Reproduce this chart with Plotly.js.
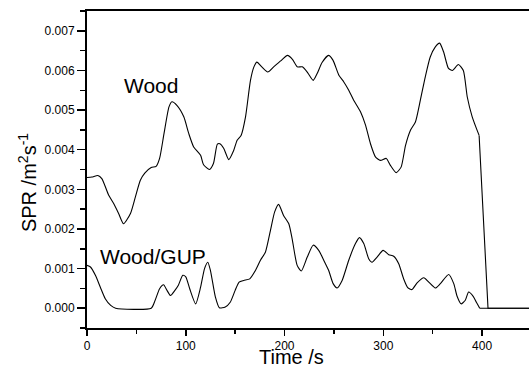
<!DOCTYPE html>
<html>
<head>
<meta charset="utf-8">
<script src="https://cdn.plot.ly/plotly-3.0.1.min.js"></script>
<style>
html,body{margin:0;padding:0;background:#fff;overflow:hidden;}
#chart{width:529px;height:369px;}
</style>
</head>
<body>
<div id="chart"></div>
<script>
// Wood series
const woodTime = [0, 5, 11, 15, 22, 27, 32, 37, 44, 49, 54, 58.5, 65, 70, 73.5, 78, 83, 86, 91, 98, 103, 108, 115, 118, 124, 128, 132, 134.5, 138.5, 143.5, 148.5, 152, 156, 160.5, 165.5, 169, 172, 177, 183, 189, 196, 203, 208, 213, 218, 223.5, 229, 233, 238, 244.5, 249, 255, 260, 265, 270, 277, 282, 287, 292, 297, 303, 307, 313, 318, 322.5, 327.5, 332.5, 337.5, 342.5, 347.5, 352.5, 357, 361, 366, 370, 376, 381, 385, 390, 397, 406, 420, 448];
const woodSPR = [0.00330, 0.00331, 0.00335, 0.00327, 0.00285, 0.00264, 0.00239, 0.00213, 0.00239, 0.00281, 0.00323, 0.00341, 0.00355, 0.00358, 0.00378, 0.00441, 0.00508, 0.00521, 0.00512, 0.00483, 0.00441, 0.00407, 0.00386, 0.00362, 0.00350, 0.00365, 0.00414, 0.00415, 0.00403, 0.00375, 0.00398, 0.00424, 0.00436, 0.00483, 0.00575, 0.00609, 0.00621, 0.00609, 0.00596, 0.00609, 0.00624, 0.00638, 0.00628, 0.00609, 0.00609, 0.00594, 0.00575, 0.00592, 0.00620, 0.00638, 0.00626, 0.00588, 0.00571, 0.00550, 0.00525, 0.00495, 0.00462, 0.00415, 0.00382, 0.00373, 0.00378, 0.00361, 0.00342, 0.00356, 0.00411, 0.00449, 0.00470, 0.00525, 0.00584, 0.00634, 0.00659, 0.00669, 0.00647, 0.00605, 0.00600, 0.00615, 0.00600, 0.00533, 0.00483, 0.00436, 0.00000, 0.00000, 0.00000];

// Wood/GUP series
const gupTime = [0, 3.5, 8.5, 13.5, 18.5, 24, 29, 65, 69, 73.5, 77.5, 81, 84.5, 89, 92.5, 97, 100, 104, 110, 115, 119, 122.3, 125, 130, 134, 140, 145, 150, 154, 158.7, 164.8, 170.5, 175.6, 180.7, 185.7, 190, 194, 199, 204.3, 207.7, 212.8, 217, 223, 229, 234.6, 239.7, 244.7, 249.2, 253.2, 258.3, 265, 271.8, 275.8, 280.2, 285.2, 288.6, 293.7, 299.8, 305.5, 310.5, 315.6, 320.6, 324.7, 329, 334.2, 341, 346, 352.7, 357.8, 366.2, 371.3, 374.7, 378.7, 383, 386.4, 391, 394.2, 397.6, 448];
const gupSPR = [0.00108, 0.00104, 0.00083, 0.00053, 0.00024, 0.00007, 0.00000, 0.00000, 0.00020, 0.00049, 0.00059, 0.00045, 0.00032, 0.00045, 0.00058, 0.00083, 0.00079, 0.00049, 0.00011, 0.00053, 0.00100, 0.00116, 0.00095, 0.00028, 0.00001, 0.00003, 0.00015, 0.00045, 0.00066, 0.00070, 0.00074, 0.00095, 0.00121, 0.00142, 0.00196, 0.00243, 0.00262, 0.00234, 0.00213, 0.00175, 0.00108, 0.00094, 0.00129, 0.00159, 0.00146, 0.00121, 0.00095, 0.00062, 0.00051, 0.00070, 0.00121, 0.00163, 0.00178, 0.00163, 0.00125, 0.00116, 0.00129, 0.00146, 0.00135, 0.00131, 0.00112, 0.00074, 0.00052, 0.00047, 0.00064, 0.00077, 0.00066, 0.00051, 0.00062, 0.00085, 0.00062, 0.00030, 0.00011, 0.00020, 0.00041, 0.00030, 0.00015, 0.00000, 0.00000];

// Labels
const seriesLabels = ["Wood", "Wood/GUP"];
const xTitle = "Time /s";
const yTitle = "SPR /m<sup>2</sup>s<sup>-1</sup>";

// time at which each recording stops (after this point the curve is a straight drop / flat zero)
const woodStop = 397;
const gupStop = 397.6;

const FONT = "'Liberation Sans', Arial, sans-serif";

function splitAt(xs, ys, t) {
  const i = xs.indexOf(t);
  return [
    {x: xs.slice(0, i + 1), y: ys.slice(0, i + 1)},
    {x: xs.slice(i), y: ys.slice(i)}
  ];
}
const [woodA, woodB] = splitAt(woodTime, woodSPR, woodStop);
const [gupA, gupB] = splitAt(gupTime, gupSPR, gupStop);

const smooth = {color: '#000', width: 1.1, shape: 'spline', smoothing: 0.6};
const straight = {color: '#000', width: 1.1, shape: 'linear'};

const traces = [
  {x: woodA.x, y: woodA.y, name: seriesLabels[0], type: 'scatter', mode: 'lines', line: smooth},
  {x: woodB.x, y: woodB.y, name: seriesLabels[0], type: 'scatter', mode: 'lines', line: straight},
  {x: gupA.x, y: gupA.y, name: seriesLabels[1], type: 'scatter', mode: 'lines', line: smooth},
  {x: gupB.x, y: gupB.y, name: seriesLabels[1], type: 'scatter', mode: 'lines', line: straight}
];

const layout = {
  width: 529, height: 369,
  margin: {l: 87, r: 0, t: 11, b: 41, pad: 0},
  paper_bgcolor: '#fff', plot_bgcolor: '#fff',
  showlegend: false,
  font: {family: FONT, color: '#000'},
  xaxis: {
    range: [0, 447.5], showgrid: false, zeroline: false,
    showline: true, linecolor: '#000', linewidth: 2, mirror: true,
    ticks: 'outside', ticklen: 6, tickwidth: 1.5, tickcolor: '#000',
    tick0: 0, dtick: 100,
    minor: {ticks: 'outside', ticklen: 4, tickwidth: 1.5, tickcolor: '#000', dtick: 50, tick0: 0, showgrid: false},
    tickfont: {family: FONT, size: 12, color: '#000'},
    automargin: false
  },
  yaxis: {
    range: [-0.0005, 0.0075], showgrid: false, zeroline: false,
    showline: true, linecolor: '#000', linewidth: 2, mirror: false,
    ticks: 'outside', ticklen: 8, tickwidth: 1.5, tickcolor: '#000',
    tick0: 0, dtick: 0.001, tickformat: '.3f',
    minor: {ticks: 'outside', ticklen: 5, tickwidth: 1.5, tickcolor: '#000', dtick: 0.0005, tick0: 0, showgrid: false},
    tickfont: {family: FONT, size: 12, color: '#000'},
    automargin: false
  },
  annotations: [
    {x: 65, y: 0.00563, xref: 'x', yref: 'y', text: seriesLabels[0], showarrow: false,
     xanchor: 'center', yanchor: 'middle', font: {family: FONT, size: 21, color: '#000'}},
    {x: 66.5, y: 0.00130, xref: 'x', yref: 'y', text: seriesLabels[1], showarrow: false,
     xanchor: 'center', yanchor: 'middle', font: {family: FONT, size: 21, color: '#000'}},
    // axis titles
    {x: 0.4638, y: -0.093, xref: 'paper', yref: 'paper', text: xTitle, showarrow: false,
     xanchor: 'center', yanchor: 'middle', font: {family: FONT, size: 20, color: '#000'}},
    {x: -0.136, y: 0.46, xref: 'paper', yref: 'paper', text: yTitle, showarrow: false, textangle: -90,
     xanchor: 'center', yanchor: 'middle', font: {family: FONT, size: 20, color: '#000'}}
  ]
};

Plotly.newPlot('chart', traces, layout, {staticPlot: true, displayModeBar: false});
</script>
</body>
</html>
